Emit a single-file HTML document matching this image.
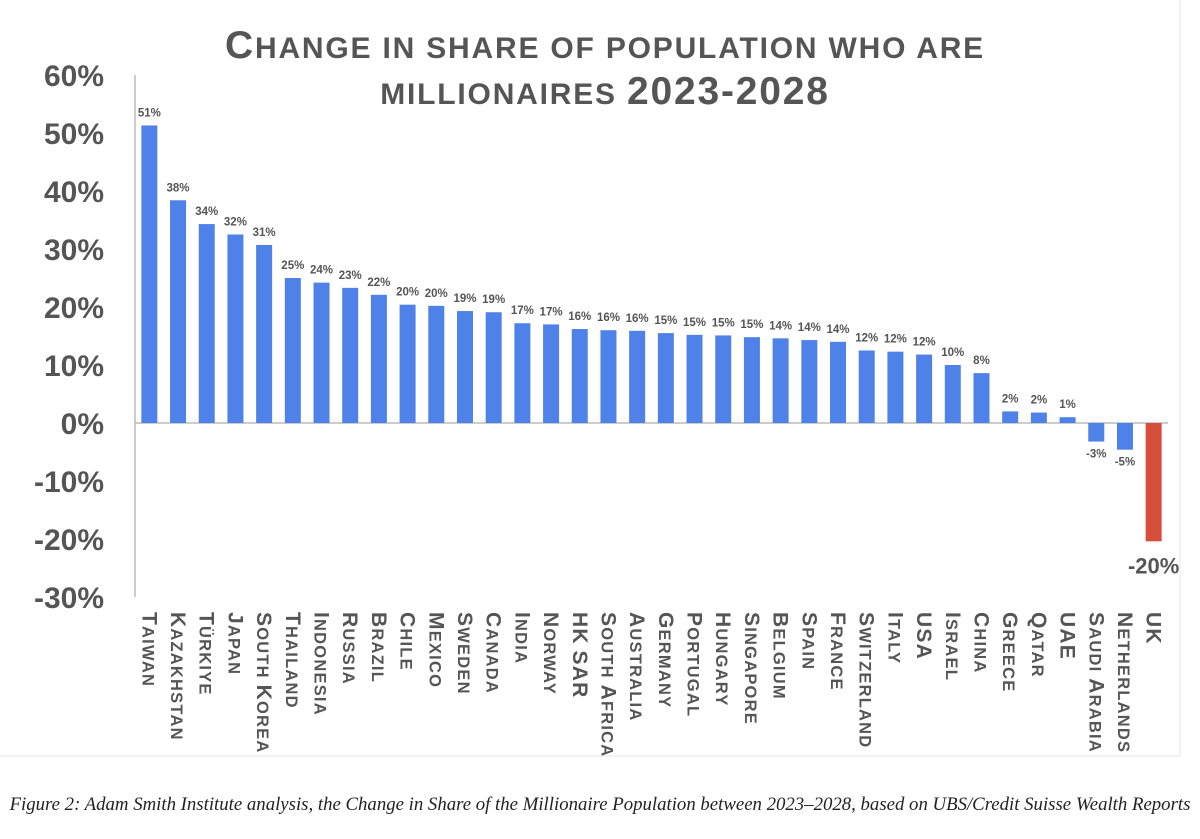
<!DOCTYPE html>
<html><head><meta charset="utf-8"><style>
body{margin:0;background:#fff;width:1200px;height:839px;overflow:hidden}
svg{display:block}
.t{font-family:"Liberation Sans",sans-serif;font-weight:bold;fill:#555}
</style></head><body>
<svg id="chart" width="1200" height="839" viewBox="0 0 1200 839" xmlns="http://www.w3.org/2000/svg">
<rect x="-2" y="-2" width="1182" height="758" fill="none" stroke="#eee" stroke-width="1.5"/>
<text id="t1" class="t" x="605" y="58" text-anchor="middle" font-size="30" letter-spacing="1.8"></text>
<text id="t2" class="t" x="605" y="104" text-anchor="middle" font-size="30" letter-spacing="1.8"></text>
<g id="yaxis"></g><g id="bars"></g><g id="xlabels"></g>
<text x="600" y="810" text-anchor="middle" font-family="Liberation Serif,serif" font-style="italic" font-size="18.8" fill="#222">Figure 2: Adam Smith Institute analysis, the Change in Share of the Millionaire Population between 2023–2028, based on UBS/Credit Suisse Wealth Reports</text>
</svg>
<script>
const categories=["Taiwan","Kazakhstan","Türkiye","Japan","South Korea","Thailand","Indonesia","Russia","Brazil","Chile","Mexico","Sweden","Canada","India","Norway","HK SAR","South Africa","Australia","Germany","Portugal","Hungary","Singapore","Belgium","Spain","France","Switzerland","Italy","USA","Israel","China","Greece","Qatar","UAE","Saudi Arabia","Netherlands","UK"];
const values=[51.3,38.4,34.3,32.5,30.7,25.0,24.2,23.3,22.1,20.4,20.2,19.3,19.1,17.2,17.0,16.2,16.0,15.9,15.5,15.2,15.1,14.8,14.6,14.3,14.0,12.5,12.3,11.8,10.0,8.6,2.0,1.8,1.0,-3.2,-4.6,-20.4];
const valueLabels=["51%","38%","34%","32%","31%","25%","24%","23%","22%","20%","20%","19%","19%","17%","17%","16%","16%","16%","15%","15%","15%","15%","14%","14%","14%","12%","12%","12%","10%","8%","2%","2%","1%","-3%","-5%","-20%"];
const yTicks=[60,50,40,30,20,10,0,-10,-20,-30];
const yTickLabels=["60%","50%","40%","30%","20%","10%","0%","-10%","-20%","-30%"];
const NS="http://www.w3.org/2000/svg";
const x0=135,x1=1168,band=(x1-x0)/categories.length,bw=16;
function y(v){return 423-v*5.8;}
function xc(i){return x0+band*(i+0.5);}
function mk(t,a,p){const e=document.createElementNS(NS,t);for(const k in a)e.setAttribute(k,a[k]);p.appendChild(e);return e;}
function smallCaps(el,str,big,small){
  for(const ch of str){const up=ch.toUpperCase();const isBig=(ch===up&&ch!==ch.toLowerCase())||/[0-9\-]/.test(ch);
    const s=document.createElementNS(NS,'tspan');s.setAttribute('font-size',isBig?big:small);s.textContent=up;el.appendChild(s);}
}
smallCaps(document.getElementById('t1'),"Change in share of population who are",39,30);
smallCaps(document.getElementById('t2'),"millionaires 2023-2028",39,30);
const ya=document.getElementById('yaxis'),bg=document.getElementById('bars'),xl=document.getElementById('xlabels');
yTicks.forEach((v,i)=>{const t=mk('text',{class:'t',x:104,y:y(v)+11,'text-anchor':'end','font-size':30},ya);


t.textContent=yTickLabels[i];});
const ax=mk('line',{x1:x0,x2:x0,y1:y(60),y2:y(-30),stroke:'#bbb','stroke-width':1.5},ya);


values.forEach((v,i)=>{const top=Math.min(y(v),y(0)),h=Math.abs(y(v)-y(0));
const last=i==values.length-1;
const r=mk('rect',{x:xc(i)-bw/2,y:top,width:bw,height:h,fill:last?'#d64f3b':'#4f82e8'},bg);


const t=mk('text',{class:'t',x:xc(i),y:v>=0?y(v)-9:y(v)+(last?32:16),'text-anchor':'middle','font-size':last?22:11.5},bg);


t.textContent=valueLabels[i];
const c=mk('text',{class:'t',transform:'translate('+(xc(i)-7)+',612) rotate(90)','letter-spacing':'1.2'},xl);


smallCaps(c,categories[i],21,16.5);});
const zl=mk('line',{x1:x0,x2:x1,y1:y(0),y2:y(0),stroke:'#bbb','stroke-width':1.5},ya);


</script>
</body></html>
